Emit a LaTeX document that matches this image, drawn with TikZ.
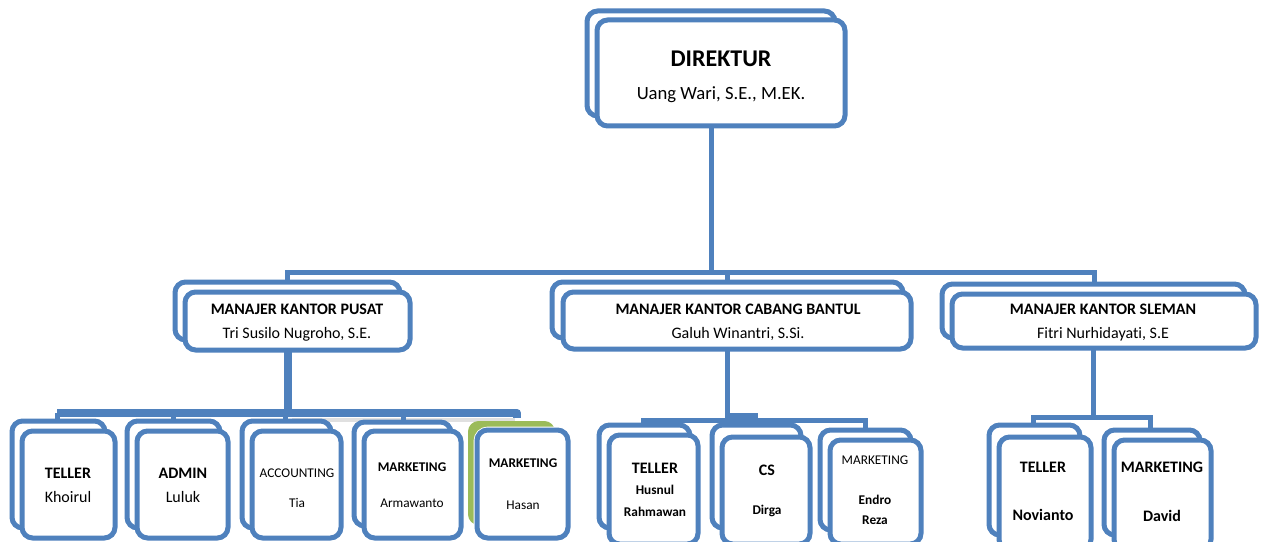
\documentclass[tikz,border=0pt]{standalone}
\usepackage{fontspec}
\setmainfont{Carlito}[Ligatures=NoCommon]
\definecolor{orgblue}{HTML}{4F81BD}
\definecolor{orggreen}{HTML}{9BBB59}
\pgfdeclarelayer{bg}
\pgfsetlayers{bg,main}
\newcommand{\orgbox}[6][]{\node[obox,#1,minimum width={(#5-#3-4)*0.75pt},minimum height={(#6-#4-4)*0.75pt}] (#2) at ({(#3+#5)/2},{(#4+#6)/2}) {};}
\begin{document}
\begin{tikzpicture}[x=0.75pt,y=-0.75pt,
  obox/.style={draw=orgblue,line width=3.75pt,rounded corners=8pt,fill=white,inner sep=0pt,outer sep=0pt},
  conn/.style={draw=orgblue,line width=3.75pt},
  heavyconn/.style={draw=orgblue,line width=6.5pt},
  lbl/.style={anchor=base,inner sep=0pt,text=black,align=center},
  fxviii/.style={lbl,font=\fontsize{18}{22}\selectfont\bfseries},
  fxiv/.style={lbl,font=\fontsize{14}{17}\selectfont},
  fxiib/.style={lbl,font=\fontsize{12}{14}\selectfont\bfseries},
  fxii/.style={lbl,font=\fontsize{12}{14}\selectfont},
  fxb/.style={lbl,font=\fontsize{10}{12}\selectfont\bfseries},
  fx/.style={lbl,font=\fontsize{10}{12}\selectfont}]
\useasboundingbox (0,0) rectangle (1265,542);
% Direktur
\orgbox{dirB}{585}{9}{837}{118}
\orgbox{dirF}{595}{18}{847}{128}
\node[fxviii] (dirT) at (721,67) {DIREKTUR};
\node[fxiv] (dirN) at (721,99) {Uang Wari, S.E., M.EK.};
% Managers
\orgbox{pusB}{173}{280}{402}{342}
\orgbox{pusF}{183}{290}{412}{352}
\node[fxiib] (pusT) at (297,314) {MANAJER KANTOR PUSAT};
\node[fxii] (pusN) at (297,338) {Tri Susilo Nugroho, S.E.};
\orgbox{banB}{550}{280}{905}{340}
\orgbox{banF}{561}{290}{913}{351}
\node[fxiib] (banT) at (738,314) {MANAJER KANTOR CABANG BANTUL};
\node[fxii] (banN) at (738,338) {Galuh Winantri, S.Si.};
\orgbox{slmB}{940}{282}{1247}{340}
\orgbox{slmF}{950}{292}{1258}{350}
\node[fxiib] (slmT) at (1103,314) {MANAJER KANTOR SLEMAN};
\node[fxii] (slmN) at (1103,338) {Fitri Nurhidayati, S.E};
% Pusat staff
\orgbox{telB}{10}{419}{107}{530}
\orgbox{telF}{20}{429}{117}{540}
\node[fxiib] (telT) at (68,478) {TELLER};
\node[fxii] (telN) at (68,502) {Khoirul};
\orgbox{admB}{125}{419}{222}{530}
\orgbox{admF}{135}{429}{230}{540}
\node[fxiib] (admT) at (183,478) {ADMIN};
\node[fxii] (admN) at (183,502) {Luluk};
\orgbox{accB}{240}{419}{333}{530}
\orgbox{accF}{250}{429}{343}{540}
\node[fx] (accT) at (297,477) {ACCOUNTING};
\node[fx] (accN) at (297,507) {Tia};
\orgbox{armB}{352}{420}{453}{528}
\orgbox{armF}{362}{429}{463}{540}
\node[fxb] (armT) at (412,471) {MARKETING};
\node[fx] (armN) at (412,507) {Armawanto};
\orgbox[fill=orggreen,draw=none]{hasG}{466}{419}{557}{527}
\orgbox[preaction={draw=white,line width=5pt}]{hasF}{475}{428}{570}{540}
\node[fxb] (hasT) at (523,467) {MARKETING};
\node[fx] (hasN) at (523,509) {Hasan};
% Bantul staff
\orgbox{husB}{597}{423}{692}{530}
\orgbox{husF}{607}{433}{700}{546}
\node[fxiib] (husT) at (655,473) {TELLER};
\node[fxb] (husN) at (655,494) {Husnul};
\node[fxb] (husM) at (655,516) {Rahmawan};
\orgbox{dirgB}{710}{423}{803}{530}
\orgbox{dirgF}{720}{435}{812}{546}
\node[fxiib] (dirgT) at (767,475) {CS};
\node[fxb] (dirgN) at (767,514) {Dirga};
\orgbox{endB}{818}{428}{913}{532}
\orgbox{endF}{828}{438}{923}{546}
\node[fx] (endT) at (875,464) {MARKETING};
\node[fxb] (endN) at (875,504) {Endro};
\node[fxb] (endM) at (875,524) {Reza};
% Sleman staff
\orgbox{novB}{987}{423}{1082}{537}
\orgbox{novF}{997}{435}{1093}{552}
\node[fxiib] (novT) at (1043,472) {TELLER};
\node[fxiib] (novN) at (1043,520) {Novianto};
\orgbox{davB}{1102}{428}{1202}{537}
\orgbox{davF}{1112}{438}{1213}{552}
\node[fxiib] (davT) at (1162,472) {MARKETING};
\node[fxiib] (davN) at (1162,521) {David};
% Connectors
\begin{pgfonlayer}{bg}
\fill[white] (0,0) rectangle (1265,542);
\coordinate (j0) at (711,272);
\coordinate (tL) at (287,272);
\coordinate (tM) at (727,272);
\coordinate (tR) at (1094,272);
\draw[conn] (j0 |- dirF.south) -- (j0);
\draw[conn] (tL |- pusB.north) -- (tL) -- (tR) -- (tR |- slmB.north);
\draw[conn] (tM) -- (tM |- banB.north);
% Pusat
\coordinate (pV) at (288,413);
\coordinate (p1) at (57,413);
\coordinate (p2) at (173,413);
\coordinate (p3) at (285,413);
\coordinate (p4) at (403,413);
\coordinate (p5) at (517,413);
\draw[black!12,line width=3pt] (292,420) -- (515,420);
\draw[heavyconn] (pV |- pusF.south) -- (pV);
\draw[conn] (p1 |- telB.north) -- (p1);
\draw[conn] (p2) -- (p2 |- admB.north);
\draw[conn] (p3) -- (p3 |- accB.north);
\draw[conn] (p4) -- (p4 |- armB.north);
\draw[heavyconn,line width=6pt,line join=round] (p1) -- (p5) -- ++(0,5);
% Bantul
\coordinate (bV) at (727,420);
\coordinate (b1) at (643,420);
\coordinate (b3) at (865,420);
\draw[conn] (bV |- banF.south) -- (bV);
\draw[conn] (b1 |- husB.north) -- (b1) -- (b3) -- (b3 |- endB.north);
\fill[orgblue] (727,413) rectangle (758,422);
% Sleman
\coordinate (sV) at (1093,417);
\coordinate (s1) at (1033,417);
\coordinate (s2) at (1150,417);
\draw[conn] (sV |- slmF.south) -- (sV);
\draw[conn] (s1 |- novB.north) -- (s1) -- (s2) -- (s2 |- davB.north);
\end{pgfonlayer}
\end{tikzpicture}
\end{document}
